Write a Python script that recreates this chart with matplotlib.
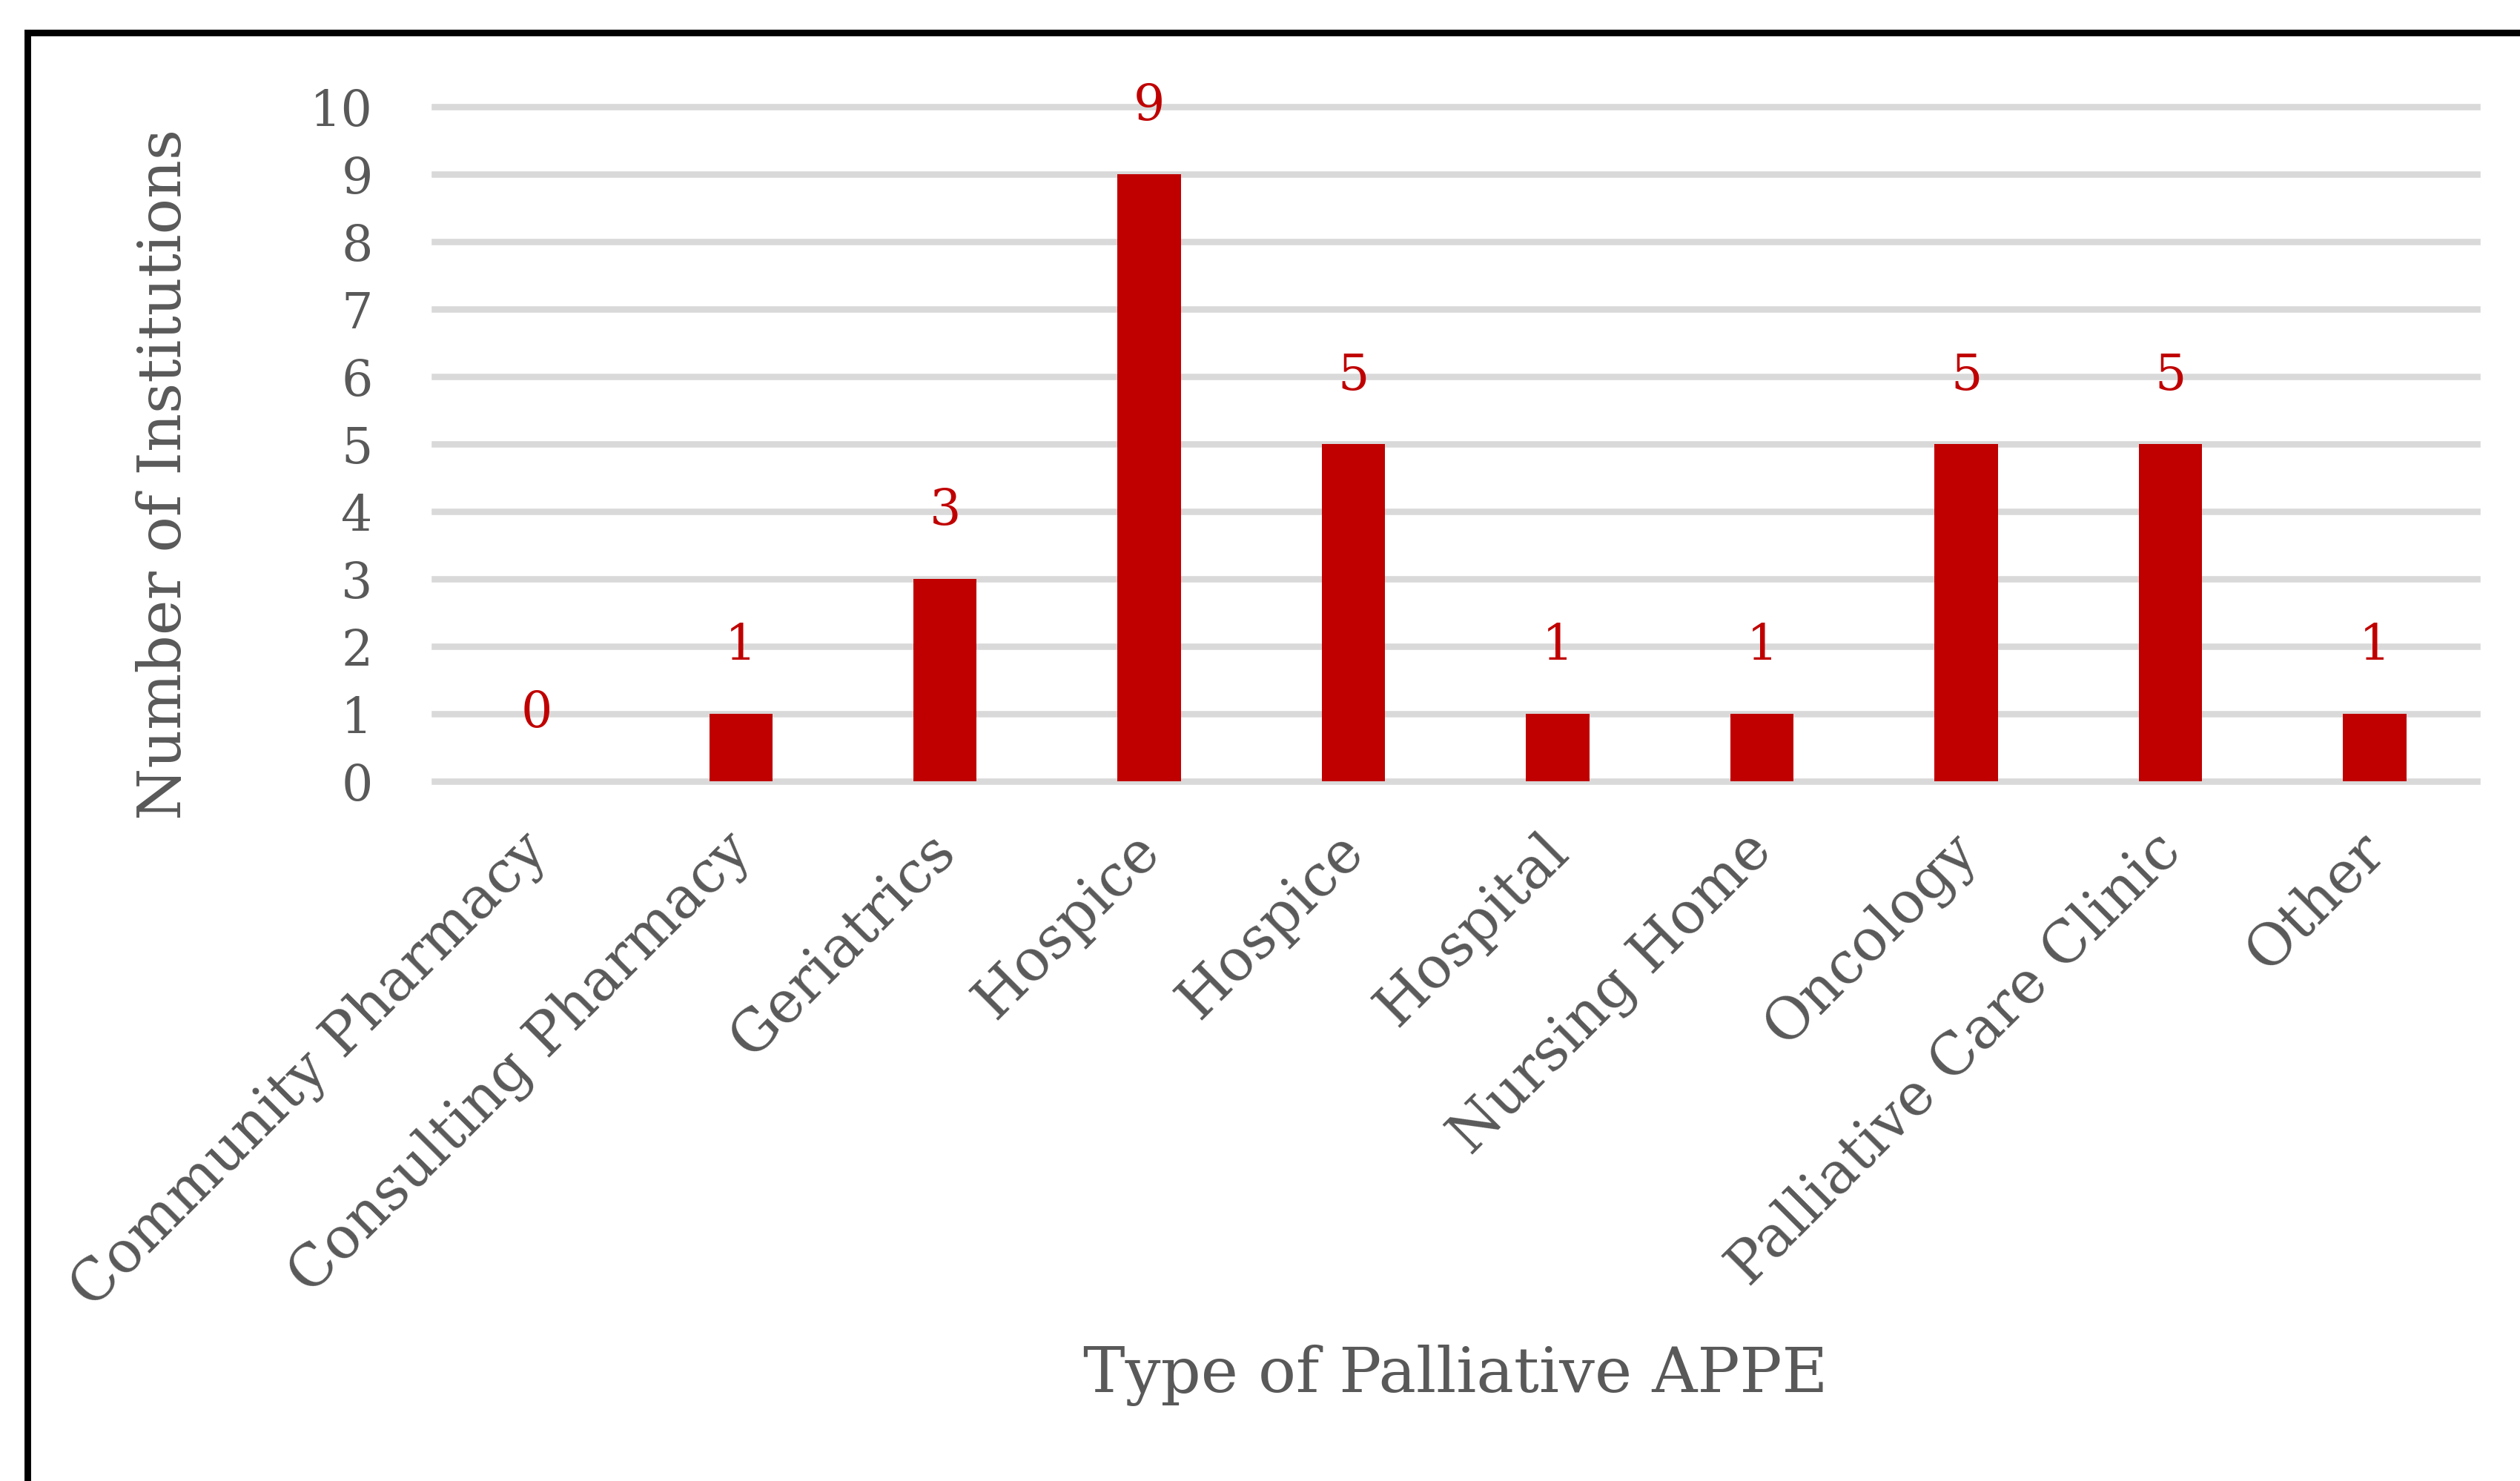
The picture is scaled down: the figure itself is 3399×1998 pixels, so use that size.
import matplotlib
matplotlib.use("Agg")
import matplotlib.pyplot as plt
import matplotlib.transforms as mtransforms
from matplotlib.patches import Rectangle

# APPE site types and number of institutions offering each
categories = ["Community Pharmacy", "Consulting Pharmacy", "Geriatrics", "Hospice",
              "Hospice", "Hospital", "Nursing Home", "Oncology",
              "Palliative Care Clinic", "Other"]
counts = [0, 1, 3, 9, 5, 1, 1, 5, 5, 1]
yticks = list(range(0, 11))

bar_color = "#C00000"
text_color = "#595959"
grid_color = "#D9D9D9"

plt.rcParams["font.family"] = ["DejaVu Serif"]

fig = plt.figure(figsize=(16.995, 9.99), dpi=200)
ax = fig.add_axes([0.1724, 0.4725, 0.8105, 0.4554])

x = list(range(len(categories)))
ax.bar(x, counts, width=0.31, color=bar_color, zorder=3)

for xi, v in zip(x, counts):
    ax.annotate(str(v), (xi, v), xytext=(0, 33), textcoords="offset points",
                ha="center", va="center", fontsize=24, color=bar_color)

ax.set_xlim(-0.5, len(categories) - 0.5)
ax.set_ylim(0, 10)
ax.set_yticks(yticks)
ax.set_xticks(x)
ax.set_xticklabels(categories, rotation=45, ha="right", rotation_mode="anchor",
                   fontsize=28, color=text_color)
ax.tick_params(axis="y", length=0, pad=30, labelsize=24, labelcolor=text_color)
ax.tick_params(axis="x", length=0, pad=22)

# nudge the slanted category labels a little to the left
shift = mtransforms.ScaledTranslation(-9 / 72, 2 / 72, fig.dpi_scale_trans)
for lbl in ax.get_xticklabels():
    lbl.set_transform(lbl.get_transform() + shift)

ax.set_axisbelow(True)
ax.yaxis.grid(True, color=grid_color, linewidth=3.1)
for gl in ax.get_ygridlines():
    gl.set_clip_on(False)
for s in ax.spines.values():
    s.set_visible(False)

ax.set_ylabel("Number of Institutions", fontsize=29, color=text_color, va="center")
ax.set_xlabel("Type of Palliative APPE", fontsize=30.5, color=text_color, va="center")
ax.yaxis.set_label_coords(-0.132, 0.455)
ax.xaxis.set_label_coords(0.5, -0.881)

# outer frame around the chart area
frame = Rectangle((37 / 3399, -0.05), 1.1, 1 - 44 / 1998 + 0.05,
                  transform=fig.transFigure, fill=False, edgecolor="black",
                  linewidth=3.2, clip_on=False)
fig.patches.append(frame)

fig.savefig("out.png", dpi=200, facecolor="white")
